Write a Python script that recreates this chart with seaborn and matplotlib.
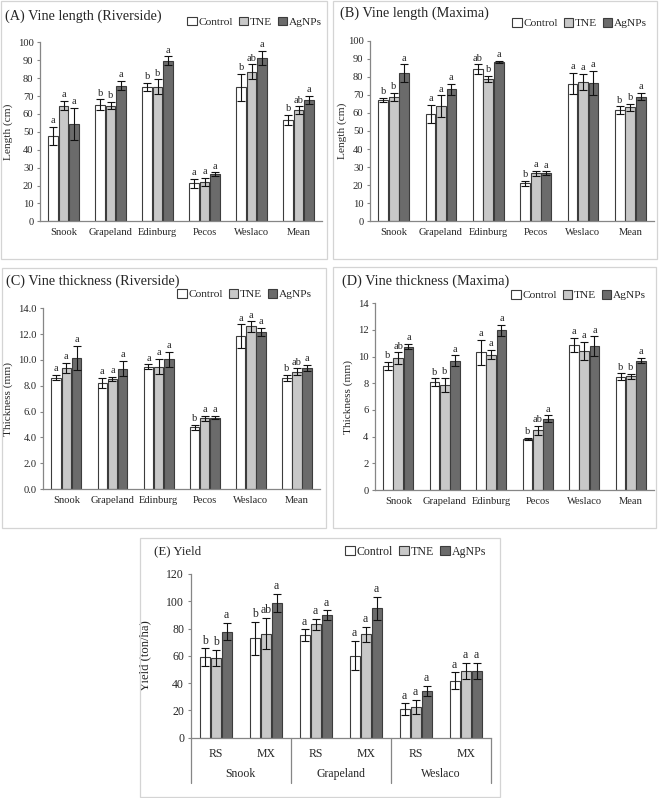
import numpy as np
import pandas as pd
import matplotlib.pyplot as plt
import seaborn as sns
from matplotlib.patches import Rectangle, Patch
from matplotlib.transforms import blended_transform_factory

# ---- data ----
sites = ["Snook", "Grapeland", "Edinburg", "Pecos", "Weslaco", "Mean"]
treatments = ["Control", "TNE", "AgNPs"]

# (A) Vine length, Riverside (cm)
a_ctrl = [47.7, 65.2, 75.2, 21.3, 74.8, 56.6]
a_tne = [64.6, 64.6, 75.1, 22.0, 83.6, 62.1]
a_ag = [54.4, 75.8, 89.6, 26.4, 91.4, 67.8]
a_ctrl_sd = [5.0, 3.0, 2.3, 2.5, 7.5, 2.8]
a_tne_sd = [2.7, 2.0, 4.2, 2.3, 4.0, 2.2]
a_ag_sd = [9.0, 2.5, 2.5, 1.0, 4.0, 2.2]
a_ctrl_let = ["a", "b", "b", "a", "b", "b"]
a_tne_let = ["a", "b", "b", "a", "ab", "ab"]
a_ag_let = ["a", "a", "a", "a", "a", "a"]

# (B) Vine length, Maxima (cm)
b_ctrl = [67.1, 59.4, 84.1, 21.0, 76.3, 61.6]
b_tne = [69.0, 63.8, 78.8, 26.6, 77.2, 63.1]
b_ag = [81.9, 73.0, 88.2, 26.6, 76.7, 69.0]
b_ctrl_sd = [1.2, 5.0, 2.8, 1.5, 6.0, 2.0]
b_tne_sd = [2.2, 6.0, 1.8, 1.3, 4.5, 2.0]
b_ag_sd = [5.0, 3.3, 0.5, 1.0, 6.5, 2.0]
b_ctrl_let = ["b", "a", "ab", "b", "a", "b"]
b_tne_let = ["b", "a", "b", "a", "a", "b"]
b_ag_let = ["a", "a", "a", "a", "a", "a"]

# (C) Vine thickness, Riverside (mm)
c_ctrl = [8.63, 8.19, 9.47, 4.78, 11.86, 8.58]
c_tne = [9.37, 8.55, 9.48, 5.48, 12.60, 9.09]
c_ag = [10.15, 9.33, 10.05, 5.53, 12.17, 9.38]
c_ctrl_sd = [0.2, 0.4, 0.2, 0.2, 0.9, 0.25]
c_tne_sd = [0.4, 0.15, 0.6, 0.2, 0.4, 0.25]
c_ag_sd = [0.95, 0.6, 0.6, 0.12, 0.3, 0.25]
c_ctrl_let = ["a", "a", "a", "b", "a", "b"]
c_tne_let = ["a", "a", "a", "a", "a", "ab"]
c_ag_let = ["a", "a", "a", "a", "a", "a"]

# (D) Vine thickness, Maxima (mm)
d_ctrl = [9.33, 8.08, 10.33, 3.83, 10.87, 8.50]
d_tne = [9.88, 7.88, 10.15, 4.48, 10.43, 8.52]
d_ag = [10.75, 9.70, 11.98, 5.35, 10.77, 9.70]
d_ctrl_sd = [0.3, 0.3, 0.95, 0.1, 0.55, 0.25]
d_tne_sd = [0.45, 0.55, 0.35, 0.35, 0.7, 0.2]
d_ag_sd = [0.2, 0.4, 0.4, 0.25, 0.75, 0.2]
d_ctrl_let = ["b", "b", "a", "b", "a", "b"]
d_tne_let = ["ab", "b", "a", "ab", "a", "b"]
d_ag_let = ["a", "a", "a", "a", "a", "a"]

# (E) Yield (ton/ha)
yield_sites = ["Snook", "Grapeland", "Weslaco"]
yield_types = ["RS", "MX"]
e_ctrl = [58.9, 72.9, 75.3, 60.1, 20.8, 41.8]
e_tne = [58.2, 76.3, 83.1, 75.8, 22.7, 48.9]
e_ag = [77.8, 99.0, 89.7, 94.9, 34.5, 48.9]
e_ctrl_sd = [6.5, 12.0, 4.2, 10.8, 4.4, 6.0]
e_tne_sd = [6.0, 11.5, 4.0, 5.6, 5.2, 6.0]
e_ag_sd = [6.5, 6.6, 3.7, 8.5, 3.7, 6.0]
e_ctrl_let = ["b", "b", "a", "a", "a", "a"]
e_tne_let = ["b", "ab", "a", "a", "a", "a"]
e_ag_let = ["a", "a", "a", "a", "a", "a"]

# ---- style ----
sns.set_style("white")
plt.rcParams["font.family"] = ["Liberation Serif", "DejaVu Serif"]

bar_colors = ["#ffffff", "#c8c8c8", "#6b6b6b"]
edge = "#3c3c3c"
spine_c = "#868686"
frame_c = "#d4d4d4"

W, H = 660, 798
fig = plt.figure(figsize=(W / 100, H / 100), dpi=100)


def px_rect(x0, y0, x1, y1):
    return [x0 / W, 1 - y1 / H, (x1 - x0) / W, (y1 - y0) / H]


def draw_panel(ax, cats, means, sds, lets, ymax, ystep, yfmt, ylabel, fs):
    df = pd.concat([pd.DataFrame({"cat": cats, "trt": t, "val": m})
                    for t, m in zip(treatments, means)], ignore_index=True)
    sns.barplot(data=df, x="cat", y="val", hue="trt", hue_order=treatments,
                palette=bar_colors, edgecolor=edge, linewidth=0.8, width=0.66,
                gap=0.06, errorbar=None, legend=False, ax=ax)
    for cont, sd, lt in zip(ax.containers, sds, lets):
        for bar, s, l in zip(cont, sd, lt):
            x = bar.get_x() + bar.get_width() / 2
            h = bar.get_height()
            ax.errorbar(x, h, yerr=s, color="#111111", elinewidth=0.8,
                        capsize=2.6, capthick=0.8)
            ax.annotate(l, (x, h + s), xytext=(0, 1.2), textcoords="offset points",
                        ha="center", va="bottom", fontsize=fs)
    ticks = np.arange(0, ymax + ystep / 2, ystep)
    ax.set_ylim(0, ymax)
    ax.set_xlim(-0.5, len(cats) - 0.5)
    ax.set_yticks(ticks)
    ax.set_yticklabels([yfmt.format(v) for v in ticks])
    ax.set_xlabel("")
    ax.set_ylabel(ylabel, fontsize=fs + 0.6)
    sns.despine(ax=ax)
    for sp in ["left", "bottom"]:
        ax.spines[sp].set_color(spine_c)
        ax.spines[sp].set_linewidth(0.9)
    ax.tick_params(axis="y", length=2.2, width=0.8, color=spine_c, pad=2.5,
                   labelsize=fs, left=True)
    ax.tick_params(axis="x", length=0, pad=5, labelsize=fs)


def add_legend(ax, xr, yc, fs):
    handles = [Patch(facecolor=c, edgecolor=edge, linewidth=0.8) for c in bar_colors]
    ax.legend(handles, treatments, ncol=3, loc="center right",
              bbox_to_anchor=(xr / W, 1 - yc / H), bbox_transform=fig.transFigure,
              frameon=False, fontsize=fs, handlelength=0.8, handleheight=0.8,
              handletextpad=0.15, columnspacing=0.55, borderaxespad=0, borderpad=0)


# panel frames
for x0, y0, x1, y1 in [(1, 1, 326.5, 259), (332.5, 1, 657, 259),
                       (1.5, 268, 325.5, 528), (333, 267, 656, 528),
                       (139.5, 537.5, 500, 796.5)]:
    fig.add_artist(Rectangle((x0 / W, 1 - y1 / H), (x1 - x0) / W, (y1 - y0) / H,
                             transform=fig.transFigure, fill=False,
                             edgecolor=frame_c, linewidth=0.9))

# (A)
axA = fig.add_axes(px_rect(40, 42.3, 322, 221.3))
draw_panel(axA, sites, [a_ctrl, a_tne, a_ag], [a_ctrl_sd, a_tne_sd, a_ag_sd],
           [a_ctrl_let, a_tne_let, a_ag_let], 100, 10, "{:.0f}", "Length (cm)", 7.6)
axA.yaxis.set_label_coords(-0.095, 0.5)
fig.text(5 / W, 1 - 16.7 / H, "(A) Vine length (Riverside)", fontsize=10.3, va="center")
add_legend(axA, 322, 21.7, 8.2)

# (B)
axB = fig.add_axes(px_rect(370, 40.7, 654, 221.3))
draw_panel(axB, sites, [b_ctrl, b_tne, b_ag], [b_ctrl_sd, b_tne_sd, b_ag_sd],
           [b_ctrl_let, b_tne_let, b_ag_let], 100, 10, "{:.0f}", "Length (cm)", 7.6)
axB.yaxis.set_label_coords(-0.082, 0.5)
fig.text(340 / W, 1 - 13.5 / H, "(B) Vine length (Maxima)", fontsize=10.3, va="center")
add_legend(axB, 647, 23.3, 8.2)

# (C)
axC = fig.add_axes(px_rect(43.3, 308.3, 320, 489))
draw_panel(axC, sites, [c_ctrl, c_tne, c_ag], [c_ctrl_sd, c_tne_sd, c_ag_sd],
           [c_ctrl_let, c_tne_let, c_ag_let], 14, 2, "{:.1f}", "Thickness (mm)", 7.6)
axC.yaxis.set_label_coords(-0.108, 0.5)
fig.text(6.5 / W, 1 - 281.7 / H, "(C) Vine thickness (Riverside)", fontsize=10.3, va="center")
add_legend(axC, 312, 294.3, 8.2)

# (D)
axD = fig.add_axes(px_rect(375, 303.3, 654, 490))
draw_panel(axD, sites, [d_ctrl, d_tne, d_ag], [d_ctrl_sd, d_tne_sd, d_ag_sd],
           [d_ctrl_let, d_tne_let, d_ag_let], 14, 2, "{:.0f}", "Thickness (mm)", 7.6)
axD.yaxis.set_label_coords(-0.08, 0.5)
fig.text(341.5 / W, 1 - 281 / H, "(D) Vine thickness (Maxima)", fontsize=10.3, va="center")
add_legend(axD, 646, 295, 8.2)

# (E) yield with two-level x axis
e_cats = [f"{s} {t}" for s in yield_sites for t in yield_types]
axE = fig.add_axes(px_rect(190.7, 574, 490.7, 737.7))
draw_panel(axE, e_cats, [e_ctrl, e_tne, e_ag], [e_ctrl_sd, e_tne_sd, e_ag_sd],
           [e_ctrl_let, e_tne_let, e_ag_let], 120, 20, "{:.0f}", "Yield (ton/ha)", 8.5)
axE.yaxis.set_label_coords(-0.13, 0.5)
axE.set_xticks(range(len(e_cats)))
axE.set_xticklabels(yield_types * len(yield_sites))
axE.tick_params(axis="x", pad=7.5)
trans = blended_transform_factory(axE.transData, axE.transAxes)
for i, s in enumerate(yield_sites):
    axE.text(2 * i + 0.5, -0.222, s, transform=trans, ha="center", va="center",
             fontsize=8.5)
for xs in np.arange(-0.5, len(e_cats), 2):
    axE.plot([xs, xs], [0, -0.277], transform=trans, clip_on=False,
             color=spine_c, linewidth=0.9)
fig.text(154 / W, 1 - 551 / H, "(E) Yield", fontsize=9.3, va="center")
add_legend(axE, 486, 551.7, 8.6)

fig.savefig("out.png", dpi=100)
